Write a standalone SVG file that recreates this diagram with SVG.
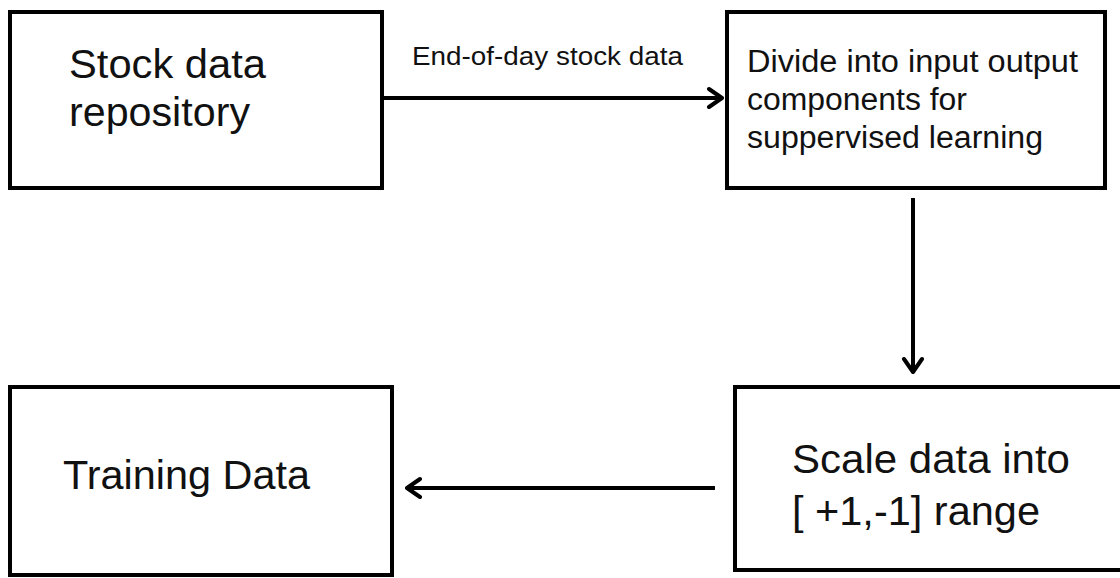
<svg xmlns="http://www.w3.org/2000/svg" width="1120" height="578" viewBox="0 0 1120 578">
<style>
.box{fill:#fff;stroke:#000;stroke-width:4}
.t{font-family:"Liberation Sans",Arial,sans-serif;fill:#111}
.edge{stroke:#000;stroke-width:4;fill:none}
</style>
<defs>
<marker id="arr" viewBox="0 0 20 24" refX="18" refY="12" markerWidth="20" markerHeight="24" markerUnits="userSpaceOnUse" orient="auto">
<polyline points="5,3 18,12 5,21" fill="none" stroke="#000" stroke-width="4" stroke-linecap="round" stroke-linejoin="round"/>
</marker>
</defs>
<rect width="1120" height="578" fill="#fff"/>
<g id="node-stock">
<rect class="box" x="10" y="12" width="372" height="176"/>
<text class="t" font-size="40" x="69" y="78" textLength="197" lengthAdjust="spacingAndGlyphs">Stock data</text>
<text class="t" font-size="40" x="69" y="126" textLength="181" lengthAdjust="spacingAndGlyphs">repository</text>
</g>
<g id="node-divide">
<rect class="box" x="727" y="12" width="378" height="176"/>
<text class="t" font-size="31" x="747" y="72" textLength="331" lengthAdjust="spacingAndGlyphs">Divide into input output</text>
<text class="t" font-size="31" x="747" y="110" textLength="220" lengthAdjust="spacingAndGlyphs">components for</text>
<text class="t" font-size="31" x="747" y="148" textLength="296" lengthAdjust="spacingAndGlyphs">suppervised learning</text>
</g>
<g id="node-scale">
<rect class="box" x="735" y="387" width="400" height="183"/>
<text class="t" font-size="40" x="792" y="473" textLength="278" lengthAdjust="spacingAndGlyphs">Scale data into</text>
<text class="t" font-size="40" x="792" y="525" textLength="248" lengthAdjust="spacingAndGlyphs">[ +1,-1] range</text>
</g>
<g id="node-training">
<rect class="box" x="10" y="387" width="382" height="188"/>
<text class="t" font-size="40" x="63" y="489" textLength="247" lengthAdjust="spacingAndGlyphs">Training Data</text>
</g>
<g id="connectors">
<line class="edge" x1="384" y1="98" x2="722" y2="98" marker-end="url(#arr)"/>
<text class="t" font-size="26" x="412" y="65" textLength="271" lengthAdjust="spacingAndGlyphs">End-of-day stock data</text>
<line class="edge" x1="913" y1="198" x2="913" y2="372" marker-end="url(#arr)"/>
<line class="edge" x1="715" y1="488" x2="407" y2="488" marker-end="url(#arr)"/>
</g>
</svg>
